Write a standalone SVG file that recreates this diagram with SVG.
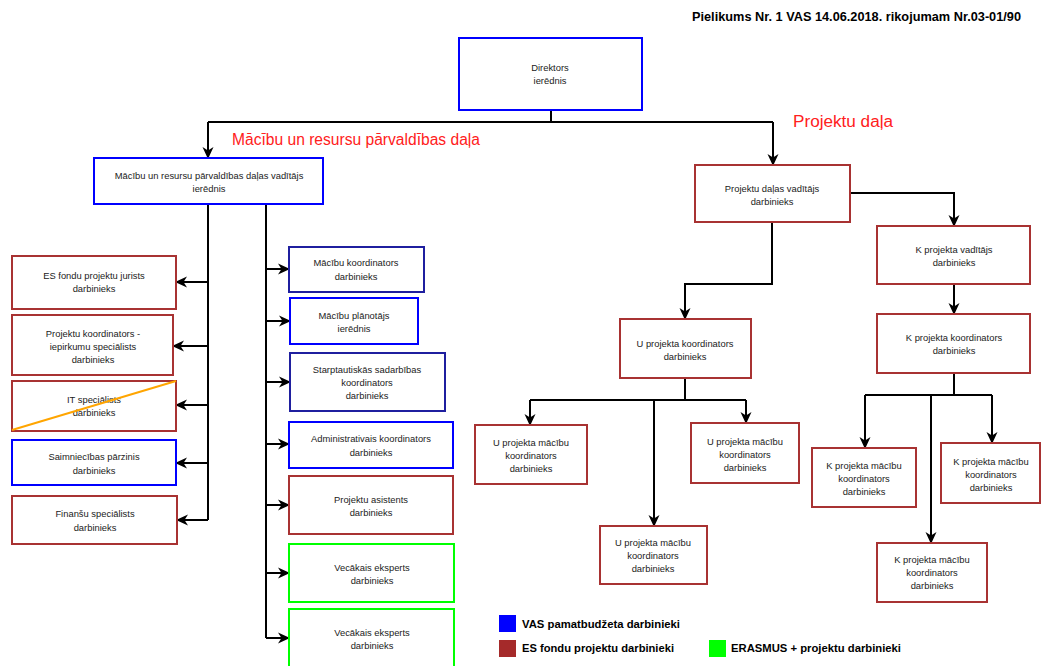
<svg xmlns="http://www.w3.org/2000/svg" width="1041" height="666" viewBox="0 0 1041 666">
<defs>
<marker id="arr" markerUnits="userSpaceOnUse" markerWidth="12" markerHeight="12" viewBox="0 0 12 12" refX="11" refY="6" orient="auto">
<path d="M0,0.5 L12,6 L0,11.5 L3.5,6 z" fill="#000"/>
</marker>
<style>
rect{fill:#fff;stroke-width:2}
.b{stroke:#0000ff}
.n{stroke:#1f1f9f}
.r{stroke:#a83232}
.g{stroke:#00ff00}
text{font-family:"Liberation Sans",Arial,sans-serif;font-size:9.4px;fill:#222;text-anchor:middle}
.c path{fill:none;stroke:#000;stroke-width:2}
.c path.a{marker-end:url(#arr)}
.lbl{font-size:16px;fill:#ff2020;text-anchor:start}
.hdr{font-size:12.5px;font-weight:bold;fill:#000;text-anchor:start}
.leg{font-size:11.5px;font-weight:bold;fill:#000;text-anchor:start}
</style>
</defs>
<rect width="1041" height="666" fill="#fff" stroke="none"/>
<text class="hdr" x="692" y="21" textLength="329" lengthAdjust="spacingAndGlyphs">Pielikums Nr. 1 VAS 14.06.2018. rikojumam Nr.03-01/90</text>
<text class="lbl" x="232" y="145" textLength="248" lengthAdjust="spacingAndGlyphs">Mācību un resursu pārvaldības daļa</text>
<text class="lbl" x="793" y="127" textLength="100" lengthAdjust="spacingAndGlyphs">Projektu daļa</text>

<g class="c" id="connectors">
<path d="M551,110 V122 M208,122 H773"/>
<path class="a" d="M208,122 V158"/>
<path class="a" d="M773,122 V165"/>
<path d="M208,204 V520 M266,204 V638"/>
<path class="a" d="M208,282 H176"/>
<path class="a" d="M208,346 H173"/>
<path class="a" d="M208,405 H176"/>
<path class="a" d="M208,463 H176"/>
<path class="a" d="M208,520 H177"/>
<path class="a" d="M266,269 H289"/>
<path class="a" d="M266,321 H290"/>
<path class="a" d="M266,382 H290"/>
<path class="a" d="M266,444 H289"/>
<path class="a" d="M266,505 H289"/>
<path class="a" d="M266,573 H289"/>
<path class="a" d="M266,638 H289"/>
<path class="a" d="M850,193 H954 V226"/>
<path class="a" d="M772,222 V284 H685 V319"/>
<path d="M685,378 V400 M530,400 H746"/>
<path class="a" d="M530,400 V425"/>
<path class="a" d="M746,400 V423"/>
<path class="a" d="M654,400 V526"/>
<path class="a" d="M954,284 V314"/>
<path d="M954,373 V395 M865,395 H992"/>
<path class="a" d="M865,395 V448"/>
<path class="a" d="M992,395 V443"/>
<path class="a" d="M931,395 V543"/>
</g>

<g id="n-direktors"><rect class="b" x="459" y="38" width="183" height="72"/><text x="550" y="70.5">Direktors</text><text x="550" y="83.5">ierēdnis</text></g>
<g id="n-mr-vaditajs"><rect class="b" x="94" y="158" width="229" height="46"/><text x="209" y="178.5">Mācību un resursu pārvaldības daļas vadītājs</text><text x="209" y="191.5">ierēdnis</text></g>
<g id="n-pd-vaditajs"><rect class="r" x="695" y="165" width="155" height="57"/><text x="772" y="191.5">Projektu daļas vadītājs</text><text x="772" y="204.5">darbinieks</text></g>
<g id="n-k-vaditajs"><rect class="r" x="877" y="226" width="153" height="58"/><text x="954" y="252.5">K projekta vadītājs</text><text x="954" y="265.5">darbinieks</text></g>
<g id="n-k-koord"><rect class="r" x="877" y="314" width="153" height="59"/><text x="954" y="340.5">K projekta koordinators</text><text x="954" y="353.5">darbinieks</text></g>
<g id="n-u-koord"><rect class="r" x="620" y="319" width="131" height="59"/><text x="685" y="346.5">U projekta koordinators</text><text x="685" y="359.5">darbinieks</text></g>
<g id="n-u-mac-1"><rect class="r" x="475" y="425" width="112" height="59"/><text x="531" y="445.5">U projekta mācību</text><text x="531" y="458.5">koordinators</text><text x="531" y="471.5">darbinieks</text></g>
<g id="n-u-mac-2"><rect class="r" x="691" y="423" width="108" height="60"/><text x="745" y="444.5">U projekta mācību</text><text x="745" y="457.5">koordinators</text><text x="745" y="470.5">darbinieks</text></g>
<g id="n-u-mac-3"><rect class="r" x="600" y="526" width="107" height="58"/><text x="653" y="545.5">U projekta mācību</text><text x="653" y="558.5">koordinators</text><text x="653" y="571.5">darbinieks</text></g>
<g id="n-k-mac-1"><rect class="r" x="812" y="448" width="104" height="59"/><text x="864" y="468.5">K projekta mācību</text><text x="864" y="481.5">koordinators</text><text x="864" y="494.5">darbinieks</text></g>
<g id="n-k-mac-2"><rect class="r" x="941" y="443" width="99" height="60"/><text x="991" y="464.5">K projekta mācību</text><text x="991" y="477.5">koordinators</text><text x="991" y="490.5">darbinieks</text></g>
<g id="n-k-mac-3"><rect class="r" x="877" y="543" width="110" height="59"/><text x="932" y="562.5">K projekta mācību</text><text x="932" y="575.5">koordinators</text><text x="932" y="588.5">darbinieks</text></g>

<g id="n-es-jurists"><rect class="r" x="12" y="256" width="164" height="53"/><text x="94" y="278.5">ES fondu projektu jurists</text><text x="94" y="291.5">darbinieks</text></g>
<g id="n-proj-koord"><rect class="r" x="12" y="315" width="161" height="60"/><text x="93" y="336.5">Projektu koordinators -</text><text x="93" y="349.5">iepirkumu speciālists</text><text x="93" y="362.5">darbinieks</text></g>
<g id="n-it"><rect class="r" x="12" y="381" width="164" height="50"/><text x="94" y="402.5">IT speciālists</text><text x="94" y="415.5">darbinieks</text><path d="M12,430 L176,381" stroke="#ffa500" stroke-width="2"/></g>
<g id="n-saimn"><rect class="b" x="12" y="440" width="164" height="45"/><text x="94" y="459.5">Saimniecības pārzinis</text><text x="94" y="473.5">darbinieks</text></g>
<g id="n-finansu"><rect class="r" x="12" y="496" width="165" height="48"/><text x="95" y="516.5">Finanšu speciālists</text><text x="95" y="530.5">darbinieks</text></g>

<g id="n-mac-koord"><rect class="n" x="289" y="247" width="135" height="45"/><text x="356" y="265.5">Mācību koordinators</text><text x="356" y="279.5">darbinieks</text></g>
<g id="n-mac-plan"><rect class="b" x="290" y="298" width="128" height="46"/><text x="354" y="318.5">Mācību plānotājs</text><text x="354" y="331.5">ierēdnis</text></g>
<g id="n-starpt"><rect class="n" x="290" y="353" width="155" height="58"/><text x="367" y="372.5">Starptautiskās sadarbības</text><text x="367" y="385.5">koordinators</text><text x="367" y="398.5">darbinieks</text></g>
<g id="n-admin"><rect class="b" x="289" y="422" width="164" height="46"/><text x="371" y="441.5">Administrativais koordinators</text><text x="371" y="455.5">darbinieks</text></g>
<g id="n-asist"><rect class="r" x="289" y="476" width="164" height="58"/><text x="371" y="502.5">Projektu asistents</text><text x="371" y="515.5">darbinieks</text></g>
<g id="n-vec-1"><rect class="g" x="289" y="544" width="165" height="58"/><text x="372" y="570.5">Vecākais eksperts</text><text x="372" y="583.5">darbinieks</text></g>
<g id="n-vec-2"><rect class="g" x="289" y="609" width="165" height="70"/><text x="372" y="635.5">Vecākais eksperts</text><text x="372" y="648.5">darbinieks</text></g>

<g id="legend">
<rect x="499" y="615" width="17" height="17" style="fill:#0000ff;stroke:none"/>
<text class="leg" x="522" y="628" textLength="158" lengthAdjust="spacingAndGlyphs">VAS pamatbudžeta darbinieki</text>
<rect x="499" y="640" width="17" height="17" style="fill:#a52a2a;stroke:none"/>
<text class="leg" x="522" y="652" textLength="152" lengthAdjust="spacingAndGlyphs">ES fondu projektu darbinieki</text>
<rect x="709" y="640" width="17" height="17" style="fill:#00ff00;stroke:none"/>
<text class="leg" x="731" y="652" textLength="170" lengthAdjust="spacingAndGlyphs">ERASMUS + projektu darbinieki</text>
</g>
</svg>
